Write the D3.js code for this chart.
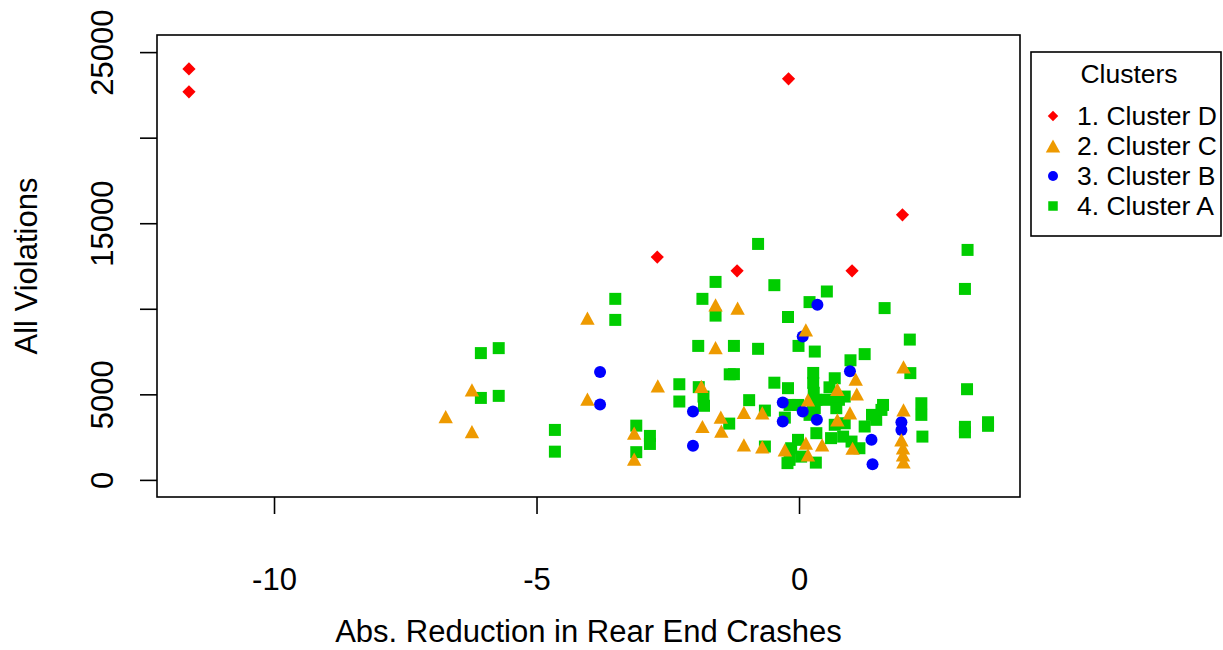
<!DOCTYPE html>
<html>
<head>
<meta charset="utf-8">
<script src="https://cdn.jsdelivr.net/npm/d3@7"></script>
<style>
  html, body { margin: 0; padding: 0; background: #fff; }
  svg { display: block; }
  text { font-family: "Liberation Sans", Arial, sans-serif; fill: #000; }
</style>
</head>
<body>
<svg id="chart" width="1223" height="650"></svg>
<script>
// ---- Data ----
const clusterNames = ["1. Cluster D", "2. Cluster C", "3. Cluster B", "4. Cluster A"];
const clusterColors = ["#FF0000", "#EE9A00", "#0000FF", "#00CD00"];
const clusterShapes = ["diamond", "triangle", "circle", "square"];

const xTickValues = [-10, -5, 0];
const yTickValues = [0, 5000, 10000, 15000, 20000, 25000];
const yTickLabels = ["0", "5000", "", "15000", "", "25000"];

// Cluster D (red diamonds)
const xD = [-11.62, -11.62, -0.20, 1.97, -2.70, -1.18, 1.01];
const yD = [24020, 22680, 23440, 15490, 13020, 12220, 12220];

// Cluster C (orange triangles)
const xC = [-6.73, -6.23, -6.23, -4.03, -4.03, -2.69, -3.14, -3.14, -1.59, -1.17,
            -1.59, -1.84, -1.49, -1.48, -1.05, -0.70, -1.05, -0.70, -1.86, 0.13,
            1.99, 1.08, 0.73, 1.10, 0.17, 0.97, 0.73, 1.99, 0.13, 0.44,
            1.02, 1.95, 1.98, 1.98, 1.99, 0.17, -0.27];
const yC = [3700, 5260, 2820, 9450, 4720, 5490, 2730, 1210, 10230, 10040,
            7730, 3120, 3670, 2850, 3950, 3920, 2050, 1930, 5470, 8770,
            6610, 5890, 5290, 5020, 4680, 3920, 3510, 4090, 2150, 2050,
            1850, 2340, 1870, 1460, 1050, 1460, 1750];

// Cluster B (blue circles)
const xB = [-3.79, -3.79, -2.02, -2.02, -0.31, -0.31, 0.35, 0.07, 0.97, 0.07, 0.34, 1.38, 1.40, 1.95, 1.95];
const yB = [6310, 4410, 4000, 1990, 4520, 3410, 10230, 8380, 6350, 3990, 3510, 2340, 920, 3370, 2920];

// Cluster A (green squares)
const xA = [-6.06, -5.72, -6.06, -5.72, -4.65, -4.65, -3.50, -3.50, -3.10, -3.10,
            -2.84, -2.84, -2.28, -2.28, -1.84, -1.59, -1.59, -0.78, -0.47, -0.21,
            -1.92, -1.24, -0.78, -0.01, -1.32, -1.24, -1.91, -1.82, -1.81, -0.95,
            -1.33, -0.47, -0.21, -0.65, -0.27, -0.65, 0.20, 0.53, 1.63, 2.11,
            3.21, 3.16, 0.30, 0.98, 1.25, 2.12, 3.20, 2.33, 2.33, 2.35,
            3.16, 3.16, 3.60, 3.60, 0.27, 0.27, 0.28, 0.26, 0.68, 0.58,
            0.76, 0.87, -0.18, -0.02, 0.33, 0.30, 0.52, 0.74, 0.71, 0.68,
            0.87, 0.33, -0.02, 0.61, 0.84, 1.00, 1.15, 1.25, 1.47, 1.57,
            1.60, -0.15, -0.18, 0.04, 0.32, 0.20, 1.39, -0.22];
const yA = [7410, 7700, 4790, 4910, 2920, 1650, 10580, 9350, 3170, 1620,
            2570, 2100, 5590, 4580, 10580, 11570, 9600, 13790, 11380, 9520,
            7830, 7830, 7660, 7830, 6170, 6180, 5420, 4870, 4330, 4660,
            3290, 5680, 5360, 4050, 3640, 1950, 10390, 11010, 10040, 8200,
            13440, 11160, 7500, 6990, 7350, 6240, 5300, 4480, 3800, 2530,
            3100, 2780, 3370, 3160, 6250, 5670, 5090, 4480, 5940, 5410,
            4680, 4870, 4380, 4380, 4680, 4190, 4680, 4780, 4190, 3220,
            3310, 2730, 2340, 2440, 2530, 2240, 1850, 3120, 3510, 4090,
            4380, 1850, 1170, 1360, 1010, 3800, 3800, 980];

const xTitle = "Abs. Reduction in Rear End Crashes";
const yTitle = "All Violations";
const legendTitle = "Clusters";

// ---- Layout ----
const svg = d3.select("#chart");
const box = { left: 157, right: 1020, top: 35, bottom: 497 };
const axisFont = "31px";
const legendFont = "26.5px";

// R-style 4% extension of data range
const allX = xD.concat(xC, xB, xA);
const xMin = d3.min(allX), xMax = d3.max(allX);
const xPad = (xMax - xMin) * 0.04;
const x = d3.scaleLinear().domain([xMin - xPad, xMax + xPad]).range([box.left, box.right]);
const y = d3.scaleLinear().domain([-1000, 26000]).range([box.bottom, box.top]);

// plot box
svg.append("rect")
  .attr("x", box.left).attr("y", box.top)
  .attr("width", box.right - box.left).attr("height", box.bottom - box.top)
  .attr("fill", "none").attr("stroke", "#000").attr("stroke-width", 1.6);

// x axis
const xAxis = svg.append("g").attr("transform", `translate(0,${box.bottom})`)
  .call(d3.axisBottom(x).tickValues(xTickValues).tickSize(17).tickFormat(d => String(d)));
xAxis.select(".domain").remove();
xAxis.selectAll(".tick line").attr("stroke", "#000").attr("stroke-width", 1.6);
xAxis.selectAll(".tick text").attr("y", 0).attr("dy", null)
  .attr("transform", "translate(0,93)")
  .style("font-size", axisFont).style("font-family", '"Liberation Sans", Arial, sans-serif');

// y axis
const yAxis = svg.append("g").attr("transform", `translate(${box.left},0)`)
  .call(d3.axisLeft(y).tickValues(yTickValues).tickSize(17)
        .tickFormat((d, i) => yTickLabels[i]));
yAxis.select(".domain").remove();
yAxis.selectAll(".tick line").attr("stroke", "#000").attr("stroke-width", 1.6);
yAxis.selectAll(".tick text")
  .attr("x", null).attr("dy", null).attr("y", 0)
  .attr("text-anchor", "middle")
  .attr("transform", "translate(-44,0) rotate(-90)")
  .style("font-size", axisFont).style("font-family", '"Liberation Sans", Arial, sans-serif');

// axis titles
svg.append("text")
  .attr("x", (box.left + box.right) / 2).attr("y", 642)
  .attr("text-anchor", "middle").style("font-size", axisFont)
  .text(xTitle);
svg.append("text")
  .attr("transform", `translate(37,${(box.top + box.bottom) / 2}) rotate(-90)`)
  .attr("text-anchor", "middle").style("font-size", axisFont)
  .text(yTitle);

// ---- markers ----
function shapePath(shape, s) {
  if (shape === "diamond") { const r = s * 0.55; return `M0,${-r}L${r},0L0,${r}L${-r},0Z`; }
  if (shape === "triangle") { const w = s * 0.6, h = s * 0.55; return `M0,${-h}L${w},${h}L${-w},${h}Z`; }
  if (shape === "square") { const r = s * 0.5; return `M${-r},${-r}H${r}V${r}H${-r}Z`; }
  const r = s * 0.5;
  return `M${r},0A${r},${r} 0 1,1 ${-r},0A${r},${r} 0 1,1 ${r},0Z`;
}

const series = [
  { xs: xA, ys: yA, k: 3 },
  { xs: xB, ys: yB, k: 2 },
  { xs: xC, ys: yC, k: 1 },
  { xs: xD, ys: yD, k: 0 }
];
const gPts = svg.append("g");
series.forEach(s => {
  const data = s.xs.map((v, i) => [v, s.ys[i]]);
  gPts.selectAll(null).data(data).enter().append("path")
    .attr("d", shapePath(clusterShapes[s.k], 12))
    .attr("transform", d => `translate(${x(d[0])},${y(d[1])})`)
    .attr("fill", clusterColors[s.k]);
});

// ---- legend ----
const leg = svg.append("g");
leg.append("rect").attr("x", 1031).attr("y", 52).attr("width", 190).attr("height", 184)
  .attr("fill", "#fff").attr("stroke", "#000").attr("stroke-width", 1.6);
leg.append("text").attr("x", 1129).attr("y", 83).attr("text-anchor", "middle")
  .style("font-size", legendFont).text(legendTitle);
const legSizes = [9.5, 12, 10, 9.5];
clusterNames.forEach((name, i) => {
  const cy = 116 + i * 30;
  leg.append("path").attr("d", shapePath(clusterShapes[i], legSizes[i]))
    .attr("transform", `translate(1053,${cy})`).attr("fill", clusterColors[i]);
  leg.append("text").attr("x", 1077).attr("y", cy + 9)
    .style("font-size", legendFont).text(name);
});
</script>
</body>
</html>
